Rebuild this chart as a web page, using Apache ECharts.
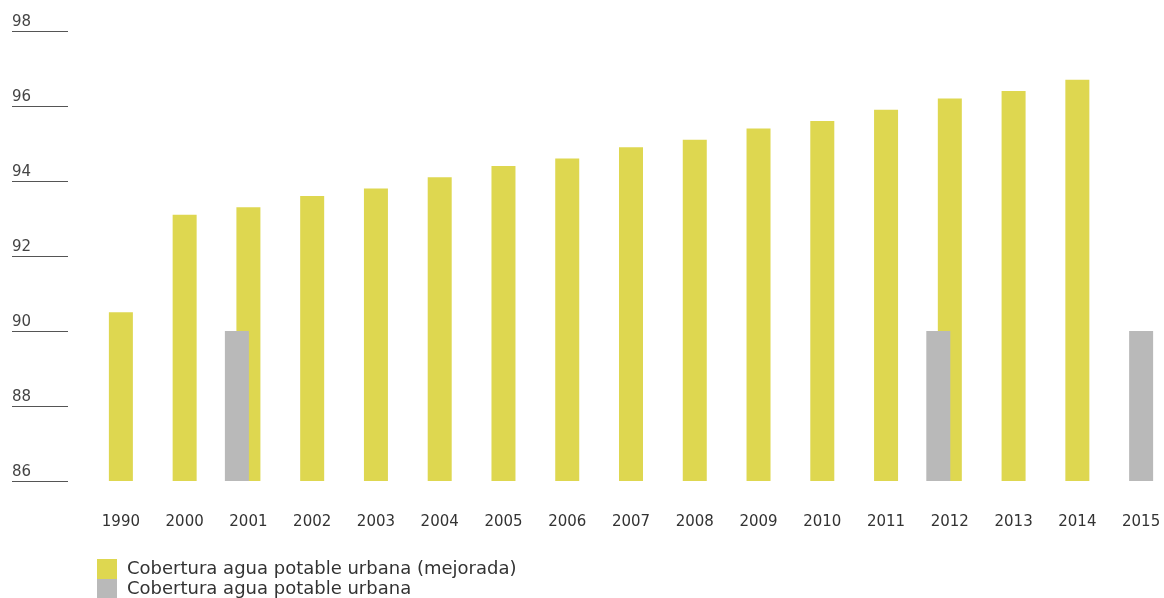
<!DOCTYPE html>
<html>
<head>
<meta charset="utf-8">
<script src="https://cdn.jsdelivr.net/npm/echarts@6/dist/echarts.min.js"></script>
<style>
  html, body { margin: 0; padding: 0; background: #ffffff; overflow: hidden; }
  /* canvas runs a few px past the right edge so the last band is full width */
  #chart { width: 1173px; height: 598px; }
</style>
</head>
<body>
<div id="chart"></div>
<script>
// Urban drinking-water coverage (%), by year
const years = ['1990', '2000', '2001', '2002', '2003', '2004', '2005', '2006', '2007',
               '2008', '2009', '2010', '2011', '2012', '2013', '2014', '2015'];
const mejorada = [90.5, 93.1, 93.3, 93.6, 93.8, 94.1, 94.4, 94.6, 94.9,
                  95.1, 95.4, 95.6, 95.9, 96.2, 96.4, 96.7, null];
const urbana = [null, null, 90, null, null, null, null, null, null,
                null, null, null, null, 90, null, null, 90];
const yTicks = [86, 88, 90, 92, 94, 96, 98];

const nameMejorada = 'Cobertura agua potable urbana (mejorada)';
const nameUrbana = 'Cobertura agua potable urbana';
const yellow = '#DED750';
const grey = '#B9B9B9';
const font = 'DejaVu Sans';

// Grey bars sit beside a yellow bar when both exist, centred otherwise
const urbanaBeside = urbana.map((v, i) => (mejorada[i] != null ? v : null));
const urbanaAlone = urbana.map((v, i) => (mejorada[i] == null ? v : null));

const chart = echarts.init(document.getElementById('chart'), null, { renderer: 'canvas' });

const catAxis = (show) => ({
  type: 'category',
  data: years,
  boundaryGap: true,
  show: show,
  axisLine: { show: false },
  axisTick: { show: false },
  splitLine: { show: false },
  axisLabel: { show: show, margin: 34, color: '#333', fontFamily: font, fontSize: 15 }
});

const legendBase = {
  orient: 'vertical',
  left: 92,
  itemWidth: 20,
  itemHeight: 20,
  itemGap: 0,
  icon: 'rect',
  textStyle: { fontFamily: font, fontSize: 18, color: '#333', padding: [0, 0, 0, 5] }
};

chart.setOption({
  animation: false,
  backgroundColor: '#ffffff',
  // 17 bands of ~63.75px, first band centred at x=121
  grid: { left: 89, right: 0, top: 31, bottom: 117, containLabel: false },
  xAxis: [catAxis(true), catAxis(false)],
  yAxis: {
    type: 'value',
    min: yTicks[0],
    max: yTicks[yTicks.length - 1],
    interval: 2,
    offset: 21,
    axisLine: { show: false },
    axisTick: { show: true, inside: false, length: 56, lineStyle: { color: '#555', width: 1 } },
    splitLine: { show: false },
    axisLabel: {
      margin: 56,
      align: 'left',
      verticalAlign: 'bottom',
      padding: [0, 0, 1, 0],
      color: '#444',
      fontFamily: font,
      fontSize: 15
    }
  },
  legend: [
    Object.assign({}, legendBase, { top: 554, data: [nameMejorada] }),
    Object.assign({}, legendBase, { top: 574, data: [nameUrbana] })
  ],
  series: [
    {
      name: nameMejorada, type: 'bar', xAxisIndex: 0, data: mejorada,
      barWidth: 24, barGap: '-100%', z: 2,
      itemStyle: { color: yellow }
    },
    {
      name: nameUrbana, type: 'bar', xAxisIndex: 0, data: urbanaAlone,
      barWidth: 24, barGap: '-100%', z: 3,
      itemStyle: { color: grey }
    },
    {
      name: nameUrbana, type: 'bar', xAxisIndex: 1, data: urbanaBeside,
      barWidth: 24, barGap: '-4%', z: 3,
      itemStyle: { color: grey }
    },
    {
      // empty companion series: keeps the grey bars shifted left of the tick
      name: 'spacer', type: 'bar', xAxisIndex: 1, data: years.map(() => null),
      barWidth: 24, barGap: '-4%', silent: true,
      itemStyle: { color: 'transparent' }
    }
  ]
});
</script>
</body>
</html>
